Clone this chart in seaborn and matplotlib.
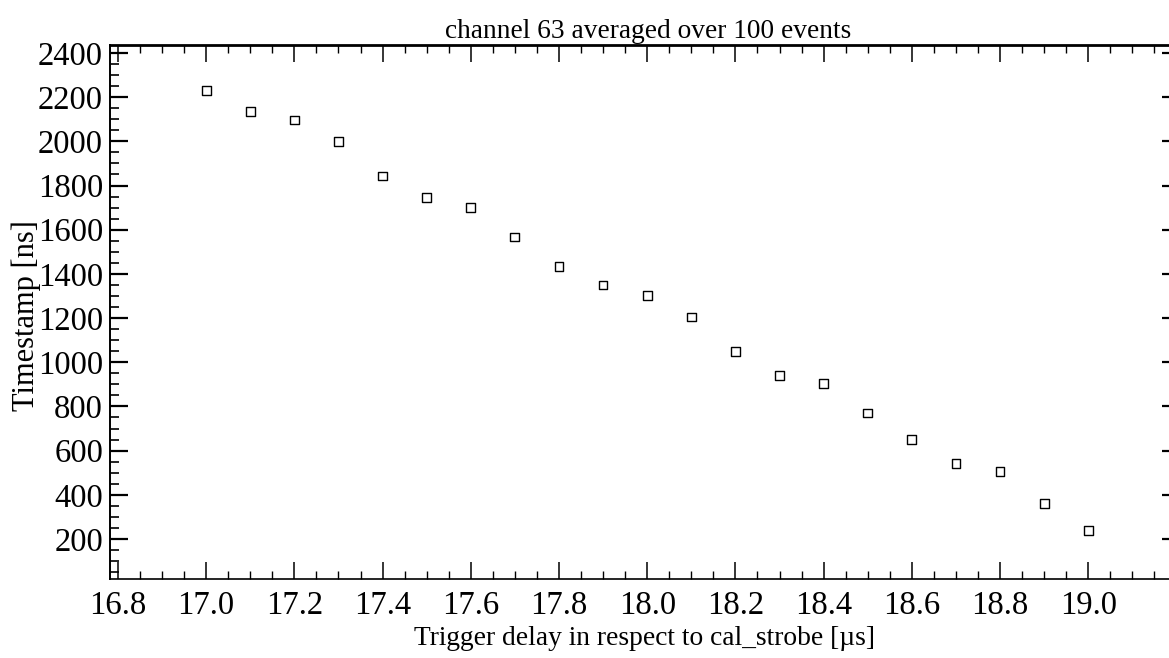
import matplotlib
matplotlib.use("Agg")
import matplotlib.pyplot as plt
from matplotlib.ticker import MultipleLocator, FixedLocator, FormatStrFormatter
import seaborn as sns
import pandas as pd

# Trigger delay settings [us] and averaged timestamps [ns]
trigger_delay = [17.0, 17.1, 17.2, 17.3, 17.4, 17.5, 17.6, 17.7, 17.8, 17.9, 18.0,
                 18.1, 18.2, 18.3, 18.4, 18.5, 18.6, 18.7, 18.8, 18.9, 19.0]
timestamp = [2231, 2134, 2097, 2000, 1843, 1747, 1700, 1567, 1433, 1350, 1301,
             1205, 1048, 939, 903, 770, 650, 541, 505, 360, 239]

x_ticks = [16.8, 17.0, 17.2, 17.4, 17.6, 17.8, 18.0, 18.2, 18.4, 18.6, 18.8, 19.0]
y_ticks = [200, 400, 600, 800, 1000, 1200, 1400, 1600, 1800, 2000, 2200, 2400]

title_text = "channel 63 averaged over 100 events"
x_label = "Trigger delay in respect to cal_strobe [\u00b5s]"
y_label = "Timestamp [ns]"

df = pd.DataFrame({"delay": trigger_delay, "ts": timestamp})

sns.set_theme(style="ticks")
plt.rcParams["font.family"] = ["Liberation Serif", "DejaVu Serif"]

W, H = 1169, 658
fig = plt.figure(figsize=(W / 100, H / 100), dpi=100)
left, right, bottom, top = 110, 1180, 579, 45
ax = fig.add_axes([left / W, 1 - bottom / H, (right - left) / W, (bottom - top) / H])

sns.scatterplot(data=df, x="delay", y="ts", ax=ax, marker="s", s=40,
                facecolors="none", edgecolors="black", linewidth=1.0, legend=False)

ax.set_xlim(16.782, 19.208)
ax.set_ylim(19, 2436)

ax.xaxis.set_major_locator(FixedLocator(x_ticks))
ax.xaxis.set_minor_locator(MultipleLocator(0.05))
ax.xaxis.set_major_formatter(FormatStrFormatter("%.1f"))
ax.yaxis.set_major_locator(FixedLocator(y_ticks))
ax.yaxis.set_minor_locator(MultipleLocator(50))

ax.tick_params(axis="both", which="both", direction="in", top=True, right=True,
               color="black", labelsize=23.5, labelcolor="black")
ax.tick_params(axis="x", which="major", length=12, width=1.1, pad=8)
ax.tick_params(axis="x", which="minor", length=6, width=1.0)
ax.tick_params(axis="y", which="major", length=13, width=1.6, pad=5)
ax.tick_params(axis="y", which="minor", length=6.5, width=1.2)

for side, lw in (("top", 2.0), ("bottom", 1.2), ("left", 1.4), ("right", 1.2)):
    ax.spines[side].set_visible(True)
    ax.spines[side].set_linewidth(lw)
    ax.spines[side].set_color("black")

ax.set_title(title_text, fontsize=19.7, pad=5, color="black",
             x=(648 - left) / (right - left))
ax.set_xlabel(x_label, fontsize=19.8, labelpad=4, color="black")
ax.xaxis.label.set_x((644 - left) / (right - left))
ax.set_ylabel(y_label, fontsize=22, color="black")
ax.yaxis.set_label_coords(-(left - 41) / (right - left), (bottom - 316) / (bottom - top))

fig.savefig("out.png", dpi=100, facecolor="white")
